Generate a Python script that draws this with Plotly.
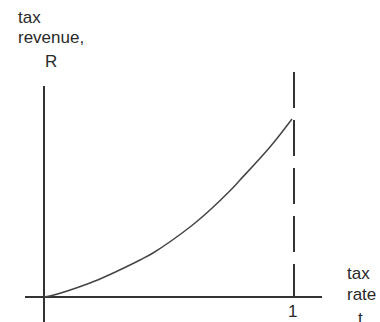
import plotly.graph_objects as go

# Curve: tax revenue R vs tax rate t
t_vals = [0.0, 0.024, 0.184, 0.264, 0.344, 0.384, 0.436, 0.584, 0.664, 0.744, 0.784, 0.904, 0.992]
r_vals = [0.0, 0.004, 0.056, 0.090, 0.128, 0.148, 0.176, 0.280, 0.348, 0.425, 0.468, 0.600, 0.712]

# Axis extents (data units)
x_axis_t = [-0.076, 1.112]
x_axis_r = [0.0, 0.0]
y_axis_t = [0.0, 0.0]
y_axis_r = [-0.1, 0.844]
limit_t = [1.0, 1.0]
limit_r = [0.9, 0.0]

tick_label = "1"
tick_pos = 1.0

fig = go.Figure()
fig.add_trace(go.Scatter(x=x_axis_t, y=x_axis_r, mode="lines",
                         line=dict(color="#333333", width=2), hoverinfo="skip"))
fig.add_trace(go.Scatter(x=y_axis_t, y=y_axis_r, mode="lines",
                         line=dict(color="#333333", width=2), hoverinfo="skip"))
fig.add_trace(go.Scatter(x=limit_t, y=limit_r, mode="lines",
                         line=dict(color="#333333", width=2, dash="36px,12px"), hoverinfo="skip"))
fig.add_trace(go.Scatter(x=t_vals, y=r_vals, mode="lines", line_shape="spline",
                         line=dict(color="#444444", width=1.5), hoverinfo="skip"))

font = dict(family="Liberation Sans, Arial, sans-serif", size=17, color="#2a2a2a")
ann = [
    dict(x=-0.112, y=1.12, text="tax", xanchor="left"),
    dict(x=-0.112, y=1.04, text="revenue,", xanchor="left"),
    dict(x=-0.004, y=0.944, text="R", xanchor="left"),
    dict(x=1.204, y=0.096, text="tax", xanchor="left"),
    dict(x=1.204, y=0.012, text="rate", xanchor="left"),
    dict(x=1.264, y=-0.084, text="t", xanchor="center"),
    dict(x=tick_pos - 0.008, y=-0.056, text=tick_label, xanchor="center"),
]
for a in ann:
    fig.add_annotation(x=a["x"], y=a["y"], text=a["text"], xanchor=a["xanchor"],
                       yanchor="middle", showarrow=False, font=font, xref="x", yref="y")

fig.update_layout(
    width=380, height=322,
    margin=dict(l=0, r=0, t=0, b=0),
    paper_bgcolor="white", plot_bgcolor="white",
    showlegend=False,
    xaxis=dict(range=[-0.176, 1.344], visible=False, fixedrange=True),
    yaxis=dict(range=[-0.1, 1.188], visible=False, fixedrange=True),
)
fig.write_html("out.html", config=dict(displayModeBar=False),
               post_script="document.body.style.margin='0';document.body.style.overflow='hidden';")
